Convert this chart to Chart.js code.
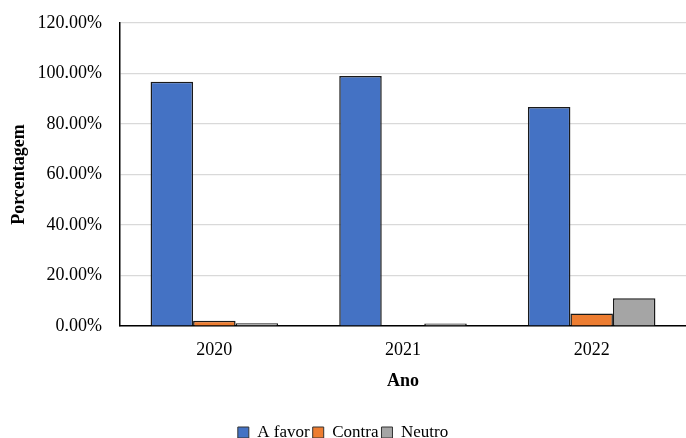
<!DOCTYPE html>
<html>
<head>
<meta charset="utf-8">
<script src="https://cdn.jsdelivr.net/npm/chart.js@4/dist/chart.umd.min.js"></script>
<style>
html,body{margin:0;padding:0;background:#fff;}
#wrap{width:686px;height:438px;}
</style>
</head>
<body>
<div id="wrap"><canvas id="c" width="686" height="438"></canvas></div>
<script>
const categories = ['2020', '2021', '2022'];
const aFavor = [96.7, 99.0, 86.7];
const contra = [2.1, 0, 5.0];
const neutro = [1.1, 1.0, 11.0];
const seriesNames = ['A favor', 'Contra', 'Neutro'];

const FONT = "'Liberation Serif', 'Times New Roman', serif";
const colors = ['#4472C4', '#ED7D31', '#A5A5A5'];

new Chart(document.getElementById('c'), {
  type: 'bar',
  data: {
    labels: categories,
    datasets: [aFavor, contra, neutro].map((d, i) => ({
      label: seriesNames[i],
      data: d,
      backgroundColor: colors[i],
      borderColor: '#1a1a1a',
      borderWidth: 1.5,
      categoryPercentage: 0.676,
      barPercentage: 1.0
    }))
  },
  options: {
    responsive: false,
    animation: false,
    layout: { padding: { top: 23, right: 0, left: 0, bottom: -13 } },
    plugins: {
      tooltip: { enabled: false },
      legend: {
        position: 'bottom',
        labels: {
          font: { family: FONT, size: 17 },
          color: '#000',
          boxWidth: 11,
          boxHeight: 11,
          padding: 3,
          generateLabels: (chart) => chart.data.datasets.map((ds, i) => ({
            text: ds.label,
            fillStyle: ds.backgroundColor,
            strokeStyle: '#333',
            lineWidth: 1,
            datasetIndex: i,
            fontColor: '#000'
          }))
        }
      }
    },
    scales: {
      x: {
        grid: { display: false, drawTicks: false },
        border: { display: true, color: '#000', width: 1.5 },
        ticks: { font: { family: FONT, size: 18 }, color: '#000', padding: 13 },
        title: {
          display: true, text: 'Ano', color: '#000',
          font: { family: FONT, size: 18, weight: 'bold' },
          padding: { top: 4, bottom: 29 }
        },
        afterFit: (s) => { s.height = 95; }
      },
      y: {
        min: 0, max: 120,
        ticks: {
          stepSize: 20, font: { family: FONT, size: 18 }, color: '#000', padding: 18,
          callback: (v) => v.toFixed(2) + '%'
        },
        grid: { color: '#D9D9D9', lineWidth: 1.2, drawTicks: false },
        border: { display: true, color: '#000', width: 1.5 },
        title: {
          display: true, text: 'Porcentagem', color: '#000',
          font: { family: FONT, size: 18, weight: 'bold' },
          padding: { top: 9, bottom: 0 }
        },
        afterFit: (s) => { s.width = 120; s.paddingTop = 0; s.paddingBottom = 0; }
      }
    }
  }
});
</script>
</body>
</html>
